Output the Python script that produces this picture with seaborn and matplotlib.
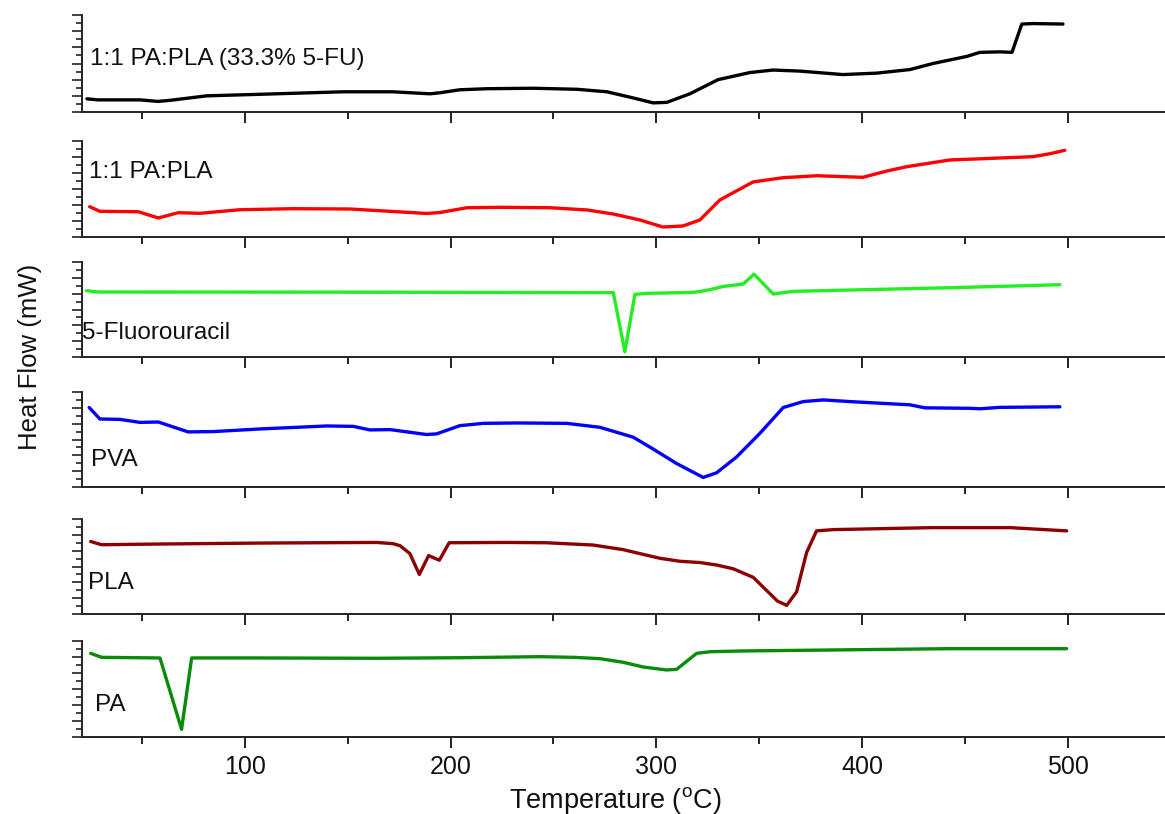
import numpy as np
import pandas as pd
import matplotlib
matplotlib.use("Agg")
import matplotlib.pyplot as plt
from matplotlib.ticker import MultipleLocator, NullFormatter
import seaborn as sns

# ---- data (temperature in °C, heat flow in arbitrary relative units per panel) ----
t_fu_blend = [23.2, 28.5, 49.0, 57.7, 63.5, 81.5, 107.3, 147.6, 171.9, 190.0, 194.8, 204.5,
              217.7, 240.0, 261.4, 276.0, 288.6, 298.4, 305.1, 316.3, 330.0, 345.5, 356.7,
              369.8, 390.7, 407.2, 423.3, 434.5, 451.0, 457.3, 467.0, 472.9, 477.7, 483.1, 497.7]
h_fu_blend = [1.63, 1.50, 1.50, 1.31, 1.44, 2.00, 2.19, 2.50, 2.50, 2.25, 2.38, 2.75,
              2.88, 2.94, 2.81, 2.50, 1.75, 1.13, 1.19, 2.25, 4.00, 4.88, 5.19,
              5.06, 4.63, 4.81, 5.25, 6.00, 6.88, 7.38, 7.44, 7.38, 10.88, 10.94, 10.88]

t_blend = [24.5, 29.5, 48.1, 57.9, 67.6, 78.1, 97.6, 123.3, 151.0, 171.9, 188.5, 194.8,
           208.0, 224.0, 248.3, 266.3, 278.9, 292.0, 303.2, 313.0, 321.2, 330.9, 347.0,
           361.5, 378.1, 400.4, 412.1, 421.8, 442.7, 458.8, 483.1, 491.4, 498.6]
h_blend = [3.79, 3.21, 3.16, 2.38, 3.04, 2.96, 3.41, 3.54, 3.50, 3.19, 2.94, 3.06,
           3.66, 3.71, 3.66, 3.38, 2.88, 2.13, 1.25, 1.38, 2.13, 4.63, 6.88,
           7.41, 7.66, 7.46, 8.25, 8.79, 9.63, 9.79, 10.04, 10.41, 10.84]

t_5fu = [23.0, 28.7, 151.0, 279.1, 284.7, 289.6, 295.3, 317.9, 324.4, 332.5, 342.2,
         347.5, 356.8, 366.5, 386.0, 394.1, 442.7, 496.2]
h_5fu = [8.38, 8.21, 8.19, 8.13, 0.66, 7.91, 8.04, 8.16, 8.41, 8.91, 9.21,
         10.46, 7.96, 8.29, 8.41, 8.46, 8.75, 9.13]

t_pva = [24.3, 29.5, 39.3, 49.0, 57.9, 72.4, 84.6, 107.3, 139.7, 152.7, 160.8, 170.5,
         188.3, 193.2, 204.5, 215.9, 232.1, 256.4, 272.6, 288.8, 298.5, 309.9, 322.8,
         329.3, 339.0, 350.4, 361.7, 371.4, 381.2, 394.1, 423.3, 430.6, 452.5, 457.3,
         467.0, 496.2]
h_pva = [10.04, 8.59, 8.54, 8.16, 8.21, 6.96, 7.00, 7.33, 7.71, 7.66, 7.21, 7.25,
         6.63, 6.71, 7.75, 8.04, 8.09, 8.04, 7.54, 6.29, 4.79, 2.96, 1.21,
         1.79, 3.79, 6.79, 10.04, 10.79, 11.00, 10.79, 10.38, 10.00, 9.94, 9.88,
         10.06, 10.13]

t_pla = [25.0, 30.3, 58.7, 107.3, 164.0, 172.1, 175.4, 180.2, 184.8, 189.3, 194.5, 199.3,
         227.2, 246.7, 269.3, 283.9, 292.0, 301.7, 311.5, 321.2, 329.3, 337.4, 347.1,
         358.9, 363.4, 368.2, 373.1, 377.9, 386.1, 434.6, 471.9, 499.5]
h_pla = [9.16, 8.75, 8.84, 8.96, 9.04, 8.88, 8.63, 7.63, 5.00, 7.38, 6.79, 9.00,
         9.04, 9.00, 8.71, 8.13, 7.63, 7.04, 6.66, 6.50, 6.19, 5.71, 4.63,
         1.63, 1.09, 2.79, 7.79, 10.50, 10.66, 10.91, 10.91, 10.50]

t_pa = [25.0, 30.3, 58.7, 69.2, 74.1, 107.3, 164.0, 204.5, 243.4, 259.6, 272.6, 283.9,
        293.6, 305.0, 309.9, 319.6, 326.1, 340.6, 386.0, 442.7, 499.5]
h_pa = [10.46, 9.96, 9.88, 0.96, 9.88, 9.88, 9.84, 9.91, 10.04, 9.96, 9.79, 9.34,
        8.75, 8.38, 8.46, 10.46, 10.66, 10.75, 10.88, 11.04, 11.04]

labels = ["1:1 PA:PLA (33.3% 5-FU)", "1:1 PA:PLA", "5-Fluorouracil", "PVA", "PLA", "PA"]
colors = ["#000000", "#ff0000", "#22ee22", "#0000ff", "#8b0000", "#0a8a0a"]
label_x = [24.6, 24.3, 20.9, 25.3, 23.8, 27.2]
label_y = [6.5, 8.1, 3.0, 3.4, 3.9, 4.0]
x_ticks = [100, 200, 300, 400, 500]

series_t = [t_fu_blend, t_blend, t_5fu, t_pva, t_pla, t_pa]
series_h = [h_fu_blend, h_blend, h_5fu, h_pva, h_pla, h_pa]

# ---- styling ----
sns.set_theme(style="ticks")
plt.rcParams["font.family"] = ["Liberation Sans", "DejaVu Sans"]
plt.rcParams["axes.linewidth"] = 1.4
plt.rcParams["axes.edgecolor"] = "#222222"

W, H = 1165, 814
fig = plt.figure(figsize=(W / 100, H / 100), dpi=100)

panel_px = [(15, 112), (141, 237), (262, 357), (392, 487), (519, 614), (641, 737)]
left_px = 82
axes = []
for i, (top, bot) in enumerate(panel_px):
    rect = [left_px / W, 1 - bot / H, 1 - left_px / W, (bot - top) / H]
    ax = fig.add_axes(rect)
    df = pd.DataFrame({"Temperature": series_t[i], "Heat Flow": series_h[i]})
    sns.lineplot(data=df, x="Temperature", y="Heat Flow", ax=ax, color=colors[i],
                 linewidth=2.4, estimator=None, sort=False)
    ax.set_xlim(20.8, 547.3)
    ax.set_ylim(0, 12)
    ax.set_xlabel("")
    ax.set_ylabel("")
    sns.despine(ax=ax, top=True, right=True)
    ax.xaxis.set_major_locator(MultipleLocator(100))
    ax.xaxis.set_minor_locator(MultipleLocator(50))
    ax.yaxis.set_major_locator(MultipleLocator(2))
    ax.yaxis.set_minor_locator(MultipleLocator(1))
    ax.yaxis.set_major_formatter(NullFormatter())
    ax.tick_params(axis="x", which="major", length=8, width=1.4, direction="out",
                   color="#222222", labelsize=18, pad=5, labelcolor="#111111")
    ax.tick_params(axis="x", which="minor", length=5, width=1.4, direction="out",
                   color="#222222")
    ax.tick_params(axis="y", which="major", length=7, width=1.2, direction="out",
                   color="#222222")
    ax.tick_params(axis="y", which="minor", length=4, width=1.2, direction="out",
                   color="#222222")
    if i < len(panel_px) - 1:
        ax.xaxis.set_major_formatter(NullFormatter())
    else:
        ax.set_xticks(x_ticks)
        ax.set_xticklabels([str(v) for v in x_ticks])
        ax.xaxis.set_minor_locator(MultipleLocator(50))
    ax.text(label_x[i], label_y[i], labels[i], fontsize=17.5, ha="left", va="center",
            color="#111111")
    axes.append(ax)

fig.text(615 / W, 1 - 800 / H, r"Temperature ($\mathregular{^{o}}$C)", ha="center",
         va="center", fontsize=19.5, color="#111111")
fig.text(30 / W, 1 - 357 / H, "Heat Flow (mW)", ha="center", va="center",
         rotation=90, fontsize=18.5, color="#111111")

fig.savefig("out.png", dpi=100)
